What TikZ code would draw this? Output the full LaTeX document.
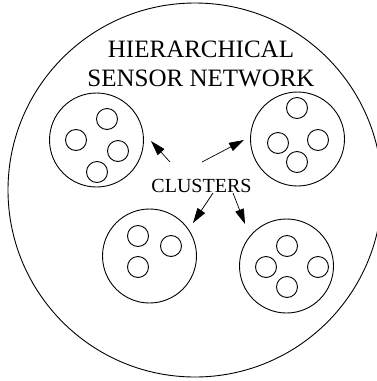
\documentclass[tikz,border=0pt]{standalone}
\usepackage{fontspec}
\setmainfont{Liberation Serif}
\usetikzlibrary{arrows.meta}
\begin{document}
\begin{tikzpicture}[x=1pt,y=-1pt,line width=0.9pt,
  outer/.style={circle,draw,inner sep=0pt,minimum size=374pt},
  cluster/.style={circle,draw,inner sep=0pt,minimum size=94pt},
  sensor/.style={circle,draw,inner sep=0pt,minimum size=21pt},
  arr/.style={-{Triangle[length=15pt,width=9pt]},line width=0.7pt}]
\useasboundingbox (0,0) rectangle (377,381);
\node[outer] (net) at (195,190) {};
\node[font=\fontsize{25}{29}\selectfont,align=center] (title) at (201,64) {HIERARCHICAL\\SENSOR NETWORK};
\node[font=\fontsize{20}{24}\selectfont] (lbl) at (201.5,186) {CLUSTERS};
% clusters
\node[cluster] (c1) at (96.5,140) {};
\node[cluster] (c2) at (297.5,139) {};
\node[cluster] (c3) at (149.5,256) {};
\node[cluster] (c4) at (286.5,266) {};
% sensors
\node[sensor] (s11) at (107,119) {};
\node[sensor] (s12) at (76,140) {};
\node[sensor] (s13) at (118,151) {};
\node[sensor] (s14) at (97,172) {};
\node[sensor] (s21) at (297,108) {};
\node[sensor] (s22) at (278,143) {};
\node[sensor] (s23) at (318,140) {};
\node[sensor] (s24) at (297,162) {};
\node[sensor] (s31) at (138,236) {};
\node[sensor] (s32) at (171,246) {};
\node[sensor] (s33) at (138,267) {};
\node[sensor] (s41) at (287,246) {};
\node[sensor] (s42) at (266,267) {};
\node[sensor] (s43) at (318,267) {};
\node[sensor] (s44) at (287,287) {};
% arrow ends
\coordinate (a1s) at (170,162); \coordinate (a1e) at (151,141);
\coordinate (a2s) at (202,162); \coordinate (a2e) at (244,140);
\coordinate (a3s) at (213,193); \coordinate (a3e) at (193,223);
\coordinate (a4s) at (233,193); \coordinate (a4e) at (245,224);
\draw[arr] (a1s) -- (a1e);
\draw[arr] (a2s) -- (a2e);
\draw[arr] (a3s) -- (a3e);
\draw[arr] (a4s) -- (a4e);
\end{tikzpicture}
\end{document}
